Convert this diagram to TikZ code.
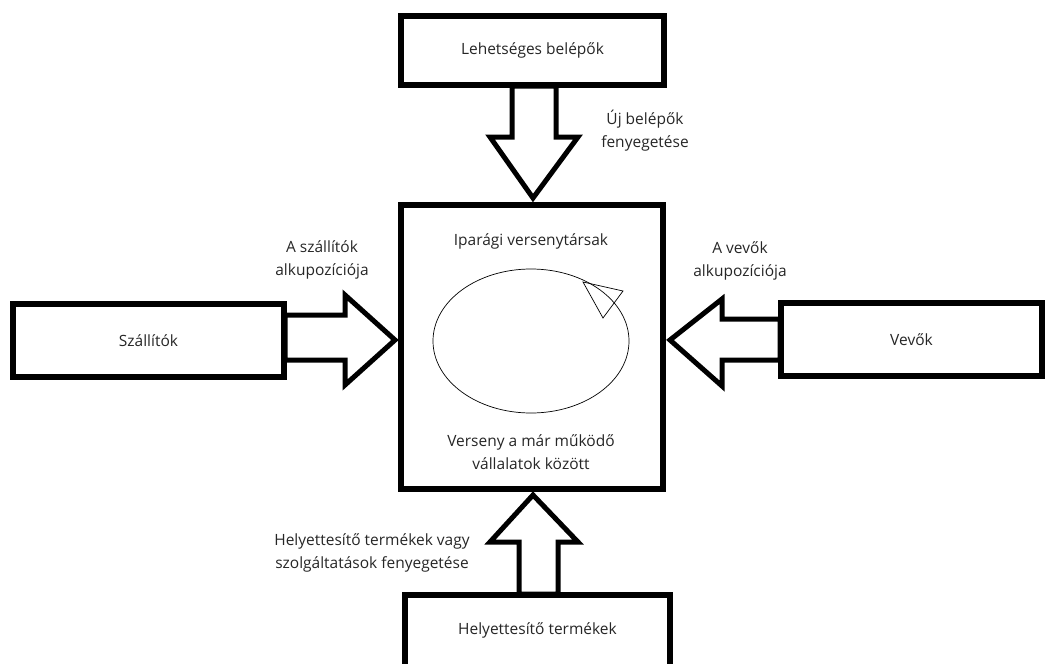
\documentclass[tikz,border=0pt]{standalone}
\usepackage{fontspec}
\setmainfont{Open Sans}
\begin{document}
\begin{tikzpicture}[x=1pt,y=-1pt,
  box/.style={draw=black,line width=6pt,fill=white,inner sep=0pt},
  blockarrow/.style={draw=black,line width=5pt,fill=white,line join=miter},
  lbl/.style={font=\fontsize{15.5}{23}\selectfont,text=black!85,align=center,inner sep=0pt},
  txt/.style={font=\fontsize{15.5}{23}\selectfont,text=black!85,align=center,inner sep=0pt}]
\useasboundingbox (0,0) rectangle (1053,664);
% block arrows
\draw[blockarrow] (512,86) -- (512,137) -- (490,137) -- (533,198) -- (578,137) -- (556,137) -- (556,86) -- cycle;
\draw[blockarrow] (285,315) -- (345,315) -- (345,295) -- (395,340) -- (345,385) -- (345,360) -- (285,360) -- cycle;
\draw[blockarrow] (780,319) -- (722,319) -- (722,299) -- (670,340) -- (722,386) -- (722,360) -- (780,360) -- cycle;
\draw[blockarrow] (519,594) -- (519,542) -- (490,542) -- (533,495) -- (578,542) -- (558,542) -- (558,594) -- cycle;
% boxes
\node[box,minimum width=263pt,minimum height=69pt] (entrants) at (532.5,50.5) {};
\node[box,minimum width=262pt,minimum height=284pt] (rivals) at (532,347) {};
\node[box,minimum width=271pt,minimum height=73pt] (suppliers) at (148.5,340.5) {};
\node[box,minimum width=261pt,minimum height=73pt] (buyers) at (911.5,339.5) {};
\node[box,minimum width=265pt,minimum height=80pt] (substitutes) at (537.5,635) {};
\node[txt] at (entrants.center) {Lehetséges belépők};
\node[txt] at (suppliers.center) {Szállítók};
\node[txt] at (buyers.center) {Vevők};
\node[txt] at (537.5,630) {Helyettesítő termékek};
% inside central box
\node[txt] (ind) at (531,241) {Iparági versenytársak};
\node[txt] (comp) at (531,452) {Verseny a már működő\\vállalatok között};
\draw[line width=0.7pt] (531,341) ellipse [x radius=98, y radius=72];
\draw[line width=0.7pt,line join=miter] (583,282) -- (623,291) -- (603,318) -- cycle;
% labels
\node[lbl] (l1) at (645,131) {Új belépők\\fenyegetése};
\node[lbl] (l2) at (322,260) {A szállítók\\alkupozíciója};
\node[lbl] (l3) at (740,261) {A vevők\\alkupozíciója};
\node[lbl] (l4) at (372,553) {Helyettesítő termékek vagy\\szolgáltatások fenyegetése};
\end{tikzpicture}
\end{document}
